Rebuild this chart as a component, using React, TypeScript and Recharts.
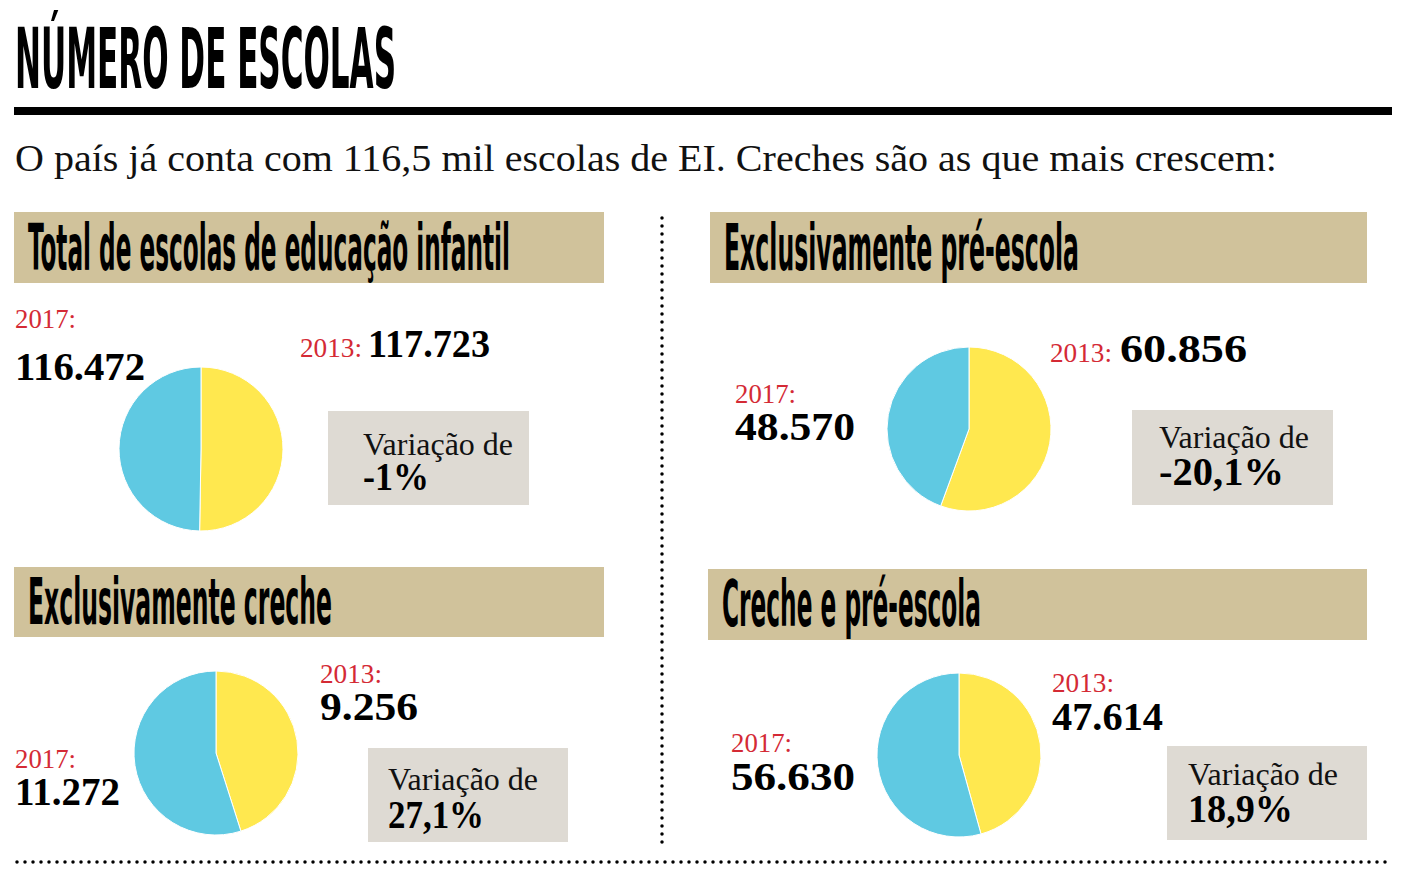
import React from 'react'
import { PieChart, Pie, Cell } from 'recharts'

// números de escolas (2013 x 2017)
const panels = ['Total de escolas de educação infantil', 'Exclusivamente pré-escola', 'Exclusivamente creche', 'Creche e pré-escola']
const years = ['2013', '2017']
const values2013 = [117723, 60856, 9256, 47614]
const values2017 = [116472, 48570, 11272, 56630]
const labels2013 = ['117.723', '60.856', '9.256', '47.614']
const labels2017 = ['116.472', '48.570', '11.272', '56.630']
const variations = ['-1%', '-20,1%', '27,1%', '18,9%']

const COLORS = ['#FFE84F', '#5FC9E2']
const BEIGE = '#D0C29B'
const GRAY = '#DEDAD3'
const RED = '#D42A35'

const NARROW = '"Liberation Sans Narrow", "DejaVu Sans Condensed", "Liberation Sans", sans-serif'
const SERIF = '"Liberation Serif", "DejaVu Serif", serif'

// layout per panel
const layout = [
  {
    pie: { cx: 201, cy: 449 },
    head: { x: 14, y: 212, w: 590, h: 71, tx: 28, ty: 270, len: 482 },
    y17: { x: 15, y: 328, nx: 15, ny: 380, nlen: 130 },
    y13: { x: 300, y: 357, nx: 368, ny: 357, nlen: 122 },
    box: { x: 328, y: 411, w: 201, h: 94, tx: 363, ty: 455, vy: 490, vlen: 66 },
  },
  {
    pie: { cx: 969, cy: 429 },
    head: { x: 710, y: 212, w: 657, h: 71, tx: 724, ty: 270, len: 355 },
    y17: { x: 735, y: 403, nx: 735, ny: 440, nlen: 120 },
    y13: { x: 1050, y: 362, nx: 1120, ny: 362, nlen: 127 },
    box: { x: 1132, y: 410, w: 201, h: 95, tx: 1159, ty: 448, vy: 485, vlen: 125 },
  },
  {
    pie: { cx: 216, cy: 753 },
    head: { x: 14, y: 567, w: 590, h: 70, tx: 28, ty: 624, len: 304 },
    y17: { x: 15, y: 768, nx: 15, ny: 805, nlen: 105 },
    y13: { x: 320, y: 683, nx: 320, ny: 720, nlen: 98 },
    box: { x: 368, y: 748, w: 200, h: 94, tx: 388, ty: 790, vy: 828, vlen: 96 },
  },
  {
    pie: { cx: 959, cy: 755 },
    head: { x: 708, y: 569, w: 659, h: 71, tx: 722, ty: 626, len: 259 },
    y17: { x: 731, y: 752, nx: 731, ny: 790, nlen: 124 },
    y13: { x: 1052, y: 692, nx: 1052, ny: 730, nlen: 111 },
    box: { x: 1167, y: 746, w: 200, h: 94, tx: 1188, ty: 785, vy: 822, vlen: 105 },
  },
]

const pieData = panels.map((_, i) => [
  { name: years[0], value: values2013[i] },
  { name: years[1], value: values2017[i] },
])

let ctx: CanvasRenderingContext2D | null = null
function measure(text: string, font: string) {
  if (!ctx) ctx = document.createElement('canvas').getContext('2d')
  if (!ctx) return 0
  ctx.font = font
  return ctx.measureText(text).width
}

// draws text at a visual size `size` squeezed/stretched to width `w`:
// font size is picked so the natural width is w, then stretched vertically
function FitText({ x, y, w, size, family, weight = 'normal', fill = '#000', text }: {
  x: number; y: number; w: number; size: number; family: string; weight?: string; fill?: string; text: string
}) {
  const natural = measure(text, `${weight} ${size}px ${family}`) || w
  const k = w / natural
  const fs = size * k
  return (
    <text
      x={0}
      y={0}
      transform={`translate(${x},${y}) scale(1,${(1 / k).toFixed(4)})`}
      fontFamily={family}
      fontWeight={weight}
      fontSize={fs}
      textLength={w}
      lengthAdjust="spacingAndGlyphs"
      fill={fill}
    >
      {text}
    </text>
  )
}

function Overlay() {
  return (
    <svg width={1407} height={888} style={{ position: 'absolute', left: 0, top: 0 }}>
      <FitText x={15} y={88} w={381} size={83} family={NARROW} weight="bold" text="NÚMERO DE ESCOLAS" />
      <rect x={14} y={107} width={1378} height={8} fill="#000" />
      <FitText x={15} y={171} w={1262} size={37} family={SERIF} fill="#111" text="O país já conta com 116,5 mil escolas de EI. Creches são as que mais crescem:" />

      {/* dotted separators */}
      <line x1={662} y1={218} x2={662} y2={850} stroke="#000" strokeWidth={3.5} strokeDasharray="0 8" strokeLinecap="round" />
      <line x1={17} y1={862} x2={1392} y2={862} stroke="#000" strokeWidth={3.5} strokeDasharray="0 8" strokeLinecap="round" />

      {layout.map((l, i) => (
        <g key={i}>
          <rect x={l.head.x} y={l.head.y} width={l.head.w} height={l.head.h} fill={BEIGE} />
          <FitText x={l.head.tx} y={l.head.ty} w={l.head.len} size={64} family={NARROW} weight="bold" text={panels[i]} />

          <FitText x={l.y17.x} y={l.y17.y} w={61} size={27} family={SERIF} fill={RED} text={`${years[1]}:`} />
          <FitText x={l.y17.nx} y={l.y17.ny} w={l.y17.nlen} size={40} family={SERIF} weight="bold" text={labels2017[i]} />
          <FitText x={l.y13.x} y={l.y13.y} w={62} size={27} family={SERIF} fill={RED} text={`${years[0]}:`} />
          <FitText x={l.y13.nx} y={l.y13.ny} w={l.y13.nlen} size={40} family={SERIF} weight="bold" text={labels2013[i]} />

          <rect x={l.box.x} y={l.box.y} width={l.box.w} height={l.box.h} fill={GRAY} />
          <FitText x={l.box.tx} y={l.box.ty} w={150} size={31} family={SERIF} fill="#111" text="Variação de" />
          <FitText x={l.box.tx} y={l.box.vy} w={l.box.vlen} size={40} family={SERIF} weight="bold" text={variations[i]} />
        </g>
      ))}
    </svg>
  )
}

export default function App() {
  return (
    <div style={{ position: 'relative', width: 1407, height: 888, overflow: 'hidden', background: '#fff' }}>
      <style>{'body{margin:0}'}</style>
      <Overlay />
      <div style={{ position: 'absolute', left: 0, top: 0 }}>
        <PieChart width={1407} height={888} margin={{ top: 0, right: 0, bottom: 0, left: 0 }}>
          {pieData.map((d, i) => (
            <Pie
              key={i}
              data={d}
              dataKey="value"
              nameKey="name"
              cx={layout[i].pie.cx}
              cy={layout[i].pie.cy}
              outerRadius={82}
              startAngle={90}
              endAngle={-270}
              stroke="#fff"
              strokeWidth={1}
              isAnimationActive={false}
            >
              {d.map((_, j) => (
                <Cell key={j} fill={COLORS[j]} />
              ))}
            </Pie>
          ))}
        </PieChart>
      </div>
    </div>
  )
}
